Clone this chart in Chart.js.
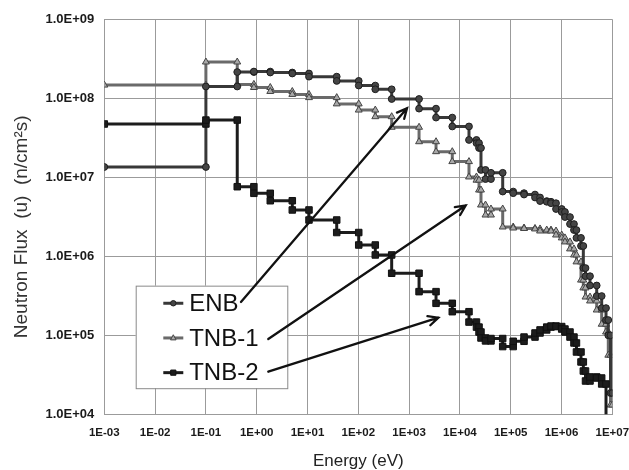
<!DOCTYPE html>
<html lang="en">
<head>
<meta charset="UTF-8">
<title>Neutron Flux Spectra</title>
<style>
    html, body { margin: 0; padding: 0; background: #fff; }
    #wrap { width: 629px; height: 470px; }
</style>
</head>
<body>
<div id="wrap"><canvas id="fluxChart" width="629" height="470"></canvas></div>
<script src="https://cdn.jsdelivr.net/npm/chart.js"></script>
<script>
// group boundaries in eV (shared by the three spectra)
const energyEdges = [1e-3, 0.1, 0.414, 0.88, 1.85, 5.02, 10.7, 37.6, 102, 216, 454, 1570, 3390, 7080,
    1.51e4, 2.12e4, 2.38e4, 2.6e4, 3.19e4, 4.09e4, 6.96e4, 1.12e5, 1.83e5, 3.01e5, 3.78e5, 5.12e5,
    6.21e5, 7.8e5, 1.01e6, 1.17e6, 1.47e6, 1.76e6, 1.97e6, 2.42e6, 2.69e6, 2.97e6, 3.64e6, 4.93e6,
    6.18e6, 7.52e6, 8.34e6, 9.22e6, 1.0e7];

// group flux, one value per energy group
const enbFlux = [1.35e7, 1.41e8, 2.15e8, 2.18e8, 2.12e8, 2.06e8, 1.88e8, 1.66e8, 1.45e8, 1.30e8, 9.8e7,
    7.4e7, 5.7e7, 4.4e7, 2.97e7, 2.71e7, 2.35e7, 1.24e7, 9.5e6, 1.14e7, 6.6e6, 6.3e6, 6.05e6, 5.55e6,
    5.0e6, 4.9e6, 4.7e6, 3.97e6, 3.64e6, 3.14e6, 2.56e6, 2.15e6, 1.71e6, 1.35e6, 7.1e5, 5.6e5, 4.27e5,
    3.14e5, 2.21e5, 1.56e5, 1.0e5, 1.86e4];
const tnb1Flux = [1.47e8, 2.88e8, 1.50e8, 1.37e8, 1.22e8, 1.12e8, 1.02e8, 8.5e7, 7.1e7, 5.85e7, 4.3e7,
    2.82e7, 2.11e7, 1.58e7, 1.01e7, 9.2e6, 6.9e6, 4.46e6, 3.33e6, 3.97e6, 2.35e6, 2.28e6, 2.25e6, 2.22e6,
    2.09e6, 2.15e6, 2.09e6, 1.86e6, 1.71e6, 1.52e6, 1.24e6, 1.04e6, 8.5e5, 5.0e5, 3.98e5, 3.05e5, 2.72e5,
    2.09e5, 1.38e5, 1.1e5, 5.6e4, 1.31e4];
const tnb2Flux = [4.73e7, 5.3e7, 7.6e6, 6.27e6, 5.05e6, 3.86e6, 2.88e6, 2.0e6, 1.39e6, 1.04e6, 6.1e5,
    3.57e5, 2.54e5, 1.99e5, 1.47e5, 1.27e5, 1.10e5, 9.25e4, 8.5e4, 9.1e4, 7.2e4, 8.4e4, 9.5e4, 1.07e5,
    1.17e5, 1.27e5, 1.31e5, 1.29e5, 1.20e5, 1.10e5, 9.5e4, 8.0e4, 6.15e4, 4.6e4, 3.53e4, 2.64e4, 2.97e4,
    2.88e4, 2.42e4, 1e3];

const seriesNames = ['ENB', 'TNB-1', 'TNB-2'];
const xTickValues = [1e-3, 1e-2, 1e-1, 1e0, 1e1, 1e2, 1e3, 1e4, 1e5, 1e6, 1e7];
const yTickValues = [1e4, 1e5, 1e6, 1e7, 1e8, 1e9];

// arrow tail / head in data coordinates [energy, flux]
const arrowTails = [[0.49, 2.64e5], [1.69, 8.98e4], [1.69, 3.46e4]];
const arrowHeads = [[910, 7.5e7], [1.3e4, 4.4e6], [3760, 1.67e5]];

function stepPoints(edges, vals) {
    const pts = [];
    vals.forEach((v, i) => {
        pts.push({x: edges[i], y: v});
        pts.push({x: edges[i + 1], y: v});
    });
    return pts;
}

function expOf(v) { return Math.round(Math.log10(v)); }
function pad2(n) { return (n < 10 ? '0' : '') + n; }

const styles = [
    {line: '#383838', fill: '#454545', edge: '#1e1e1e', shape: 'circle', r: 3.4},
    {line: '#6a6a6a', fill: '#a8a8a8', edge: '#444', shape: 'triangle', r: 4},
    {line: '#1c1c1c', fill: '#1c1c1c', edge: '#111', shape: 'rect', r: 4.6}
];

function drawMarker(ctx, shape, r, x, y) {
    ctx.beginPath();
    if (shape === 'circle') {
        ctx.arc(x, y, r, 0, Math.PI * 2);
    } else if (shape === 'triangle') {
        ctx.moveTo(x, y - r);
        ctx.lineTo(x + r * 0.87, y + r * 0.6);
        ctx.lineTo(x - r * 0.87, y + r * 0.6);
        ctx.closePath();
    } else {
        const s = r * Math.SQRT1_2;
        ctx.rect(x - s, y - s, 2 * s, 2 * s);
    }
    ctx.fill();
    ctx.stroke();
}

const overlay = {
    id: 'overlay',
    afterDatasetsDraw(chart) {
        const {ctx, scales: {x, y}} = chart;
        ctx.save();

        // legend box
        const bx = x.getPixelForValue(4.15e-3), by = y.getPixelForValue(4.25e5);
        const bw = x.getPixelForValue(4.0) - bx, bh = y.getPixelForValue(2.14e4) - by;
        ctx.fillStyle = '#fff';
        ctx.fillRect(bx, by, bw, bh);
        ctx.strokeStyle = '#8a8a8a';
        ctx.lineWidth = 1;
        ctx.strokeRect(bx + 0.5, by + 0.5, bw, bh);

        seriesNames.forEach((name, i) => {
            const st = styles[i];
            const ry = by + 17.6 + i * 34.7;
            ctx.strokeStyle = st.line;
            ctx.lineWidth = 3;
            ctx.beginPath();
            ctx.moveTo(bx + 27.6, ry);
            ctx.lineTo(bx + 47.6, ry);
            ctx.stroke();
            ctx.fillStyle = st.fill;
            ctx.strokeStyle = st.edge;
            ctx.lineWidth = 1;
            drawMarker(ctx, st.shape, st.r * 0.8, bx + 37.6, ry);
            ctx.fillStyle = '#111';
            ctx.font = '24px "Liberation Sans", Arial, sans-serif';
            ctx.textBaseline = 'middle';
            ctx.textAlign = 'left';
            ctx.fillText(name, bx + 53.5, ry + 1);
        });

        // arrows
        ctx.strokeStyle = '#111';
        ctx.lineWidth = 2.3;
        ctx.lineCap = 'round';
        arrowTails.forEach((t, i) => {
            const x0 = x.getPixelForValue(t[0]), y0 = y.getPixelForValue(t[1]);
            const x1 = x.getPixelForValue(arrowHeads[i][0]), y1 = y.getPixelForValue(arrowHeads[i][1]);
            const a = Math.atan2(y1 - y0, x1 - x0);
            ctx.beginPath();
            ctx.moveTo(x0, y0);
            ctx.lineTo(x1, y1);
            ctx.moveTo(x1 - 11 * Math.cos(a - 0.45), y1 - 11 * Math.sin(a - 0.45));
            ctx.lineTo(x1, y1);
            ctx.lineTo(x1 - 11 * Math.cos(a + 0.45), y1 - 11 * Math.sin(a + 0.45));
            ctx.stroke();
        });

        // y axis title
        const ca = chart.chartArea;
        ctx.translate(22, (ca.top + ca.bottom) / 2 + 10);
        ctx.rotate(-Math.PI / 2);
        ctx.fillStyle = '#333';
        ctx.font = '19px "Liberation Sans", Arial, sans-serif';
        ctx.textAlign = 'center';
        ctx.textBaseline = 'middle';
        ctx.fillText('Neutron Flux  (u)  (n/cm²s)', 0, 0);
        ctx.restore();
    }
};

const allFlux = [enbFlux, tnb1Flux, tnb2Flux];
const datasets = allFlux.map((vals, i) => ({
    label: seriesNames[i],
    data: stepPoints(energyEdges, vals),
    borderColor: styles[i].line,
    borderWidth: 3,
    pointStyle: styles[i].shape,
    pointRadius: styles[i].r,
    pointBackgroundColor: styles[i].fill,
    pointBorderColor: styles[i].edge,
    pointBorderWidth: 1,
    tension: 0,
    fill: false,
    order: [2, 3, 1][i]
}));

new Chart(document.getElementById('fluxChart'), {
    type: 'line',
    data: {datasets},
    options: {
        responsive: false,
        animation: false,
        devicePixelRatio: 1,
        layout: {padding: {top: 19.3, right: 16.7, bottom: 0, left: 0}},
        plugins: {legend: {display: false}, tooltip: {enabled: false}},
        scales: {
            x: {
                type: 'logarithmic',
                min: 1e-3,
                max: 1e7,
                afterBuildTicks: s => { s.ticks = xTickValues.map(v => ({value: v})); },
                afterFit: s => { s.height = 55.7; s.paddingRight = 0; s.paddingLeft = 0; },
                ticks: {
                    autoSkip: false,
                    maxRotation: 0,
                    padding: 12,
                    color: '#1a1a1a',
                    font: {size: 11.5, weight: 'bold', family: '"Liberation Sans", Arial, sans-serif'},
                    callback: v => {
                        const e = expOf(v);
                        return '1E' + (e < 0 ? '-' : '+') + pad2(Math.abs(e));
                    }
                },
                grid: {color: '#9b9b9b', lineWidth: 1, drawTicks: false},
                border: {color: '#9b9b9b'},
                title: {
                    display: true,
                    text: 'Energy (eV)',
                    color: '#222',
                    font: {size: 17, family: '"Liberation Sans", Arial, sans-serif', lineHeight: 1},
                    padding: 0
                }
            },
            y: {
                type: 'logarithmic',
                min: 1e4,
                max: 1e9,
                afterBuildTicks: s => { s.ticks = yTickValues.map(v => ({value: v})); },
                afterFit: s => { s.width = 104.3; },
                ticks: {
                    padding: 10,
                    color: '#1a1a1a',
                    font: {size: 13, weight: 'bold', family: '"Liberation Sans", Arial, sans-serif'},
                    callback: v => '1.0E+' + pad2(expOf(v))
                },
                grid: {color: '#9b9b9b', lineWidth: 1, drawTicks: false},
                border: {color: '#9b9b9b'}
            }
        }
    },
    plugins: [overlay]
});
</script>
</body>
</html>
